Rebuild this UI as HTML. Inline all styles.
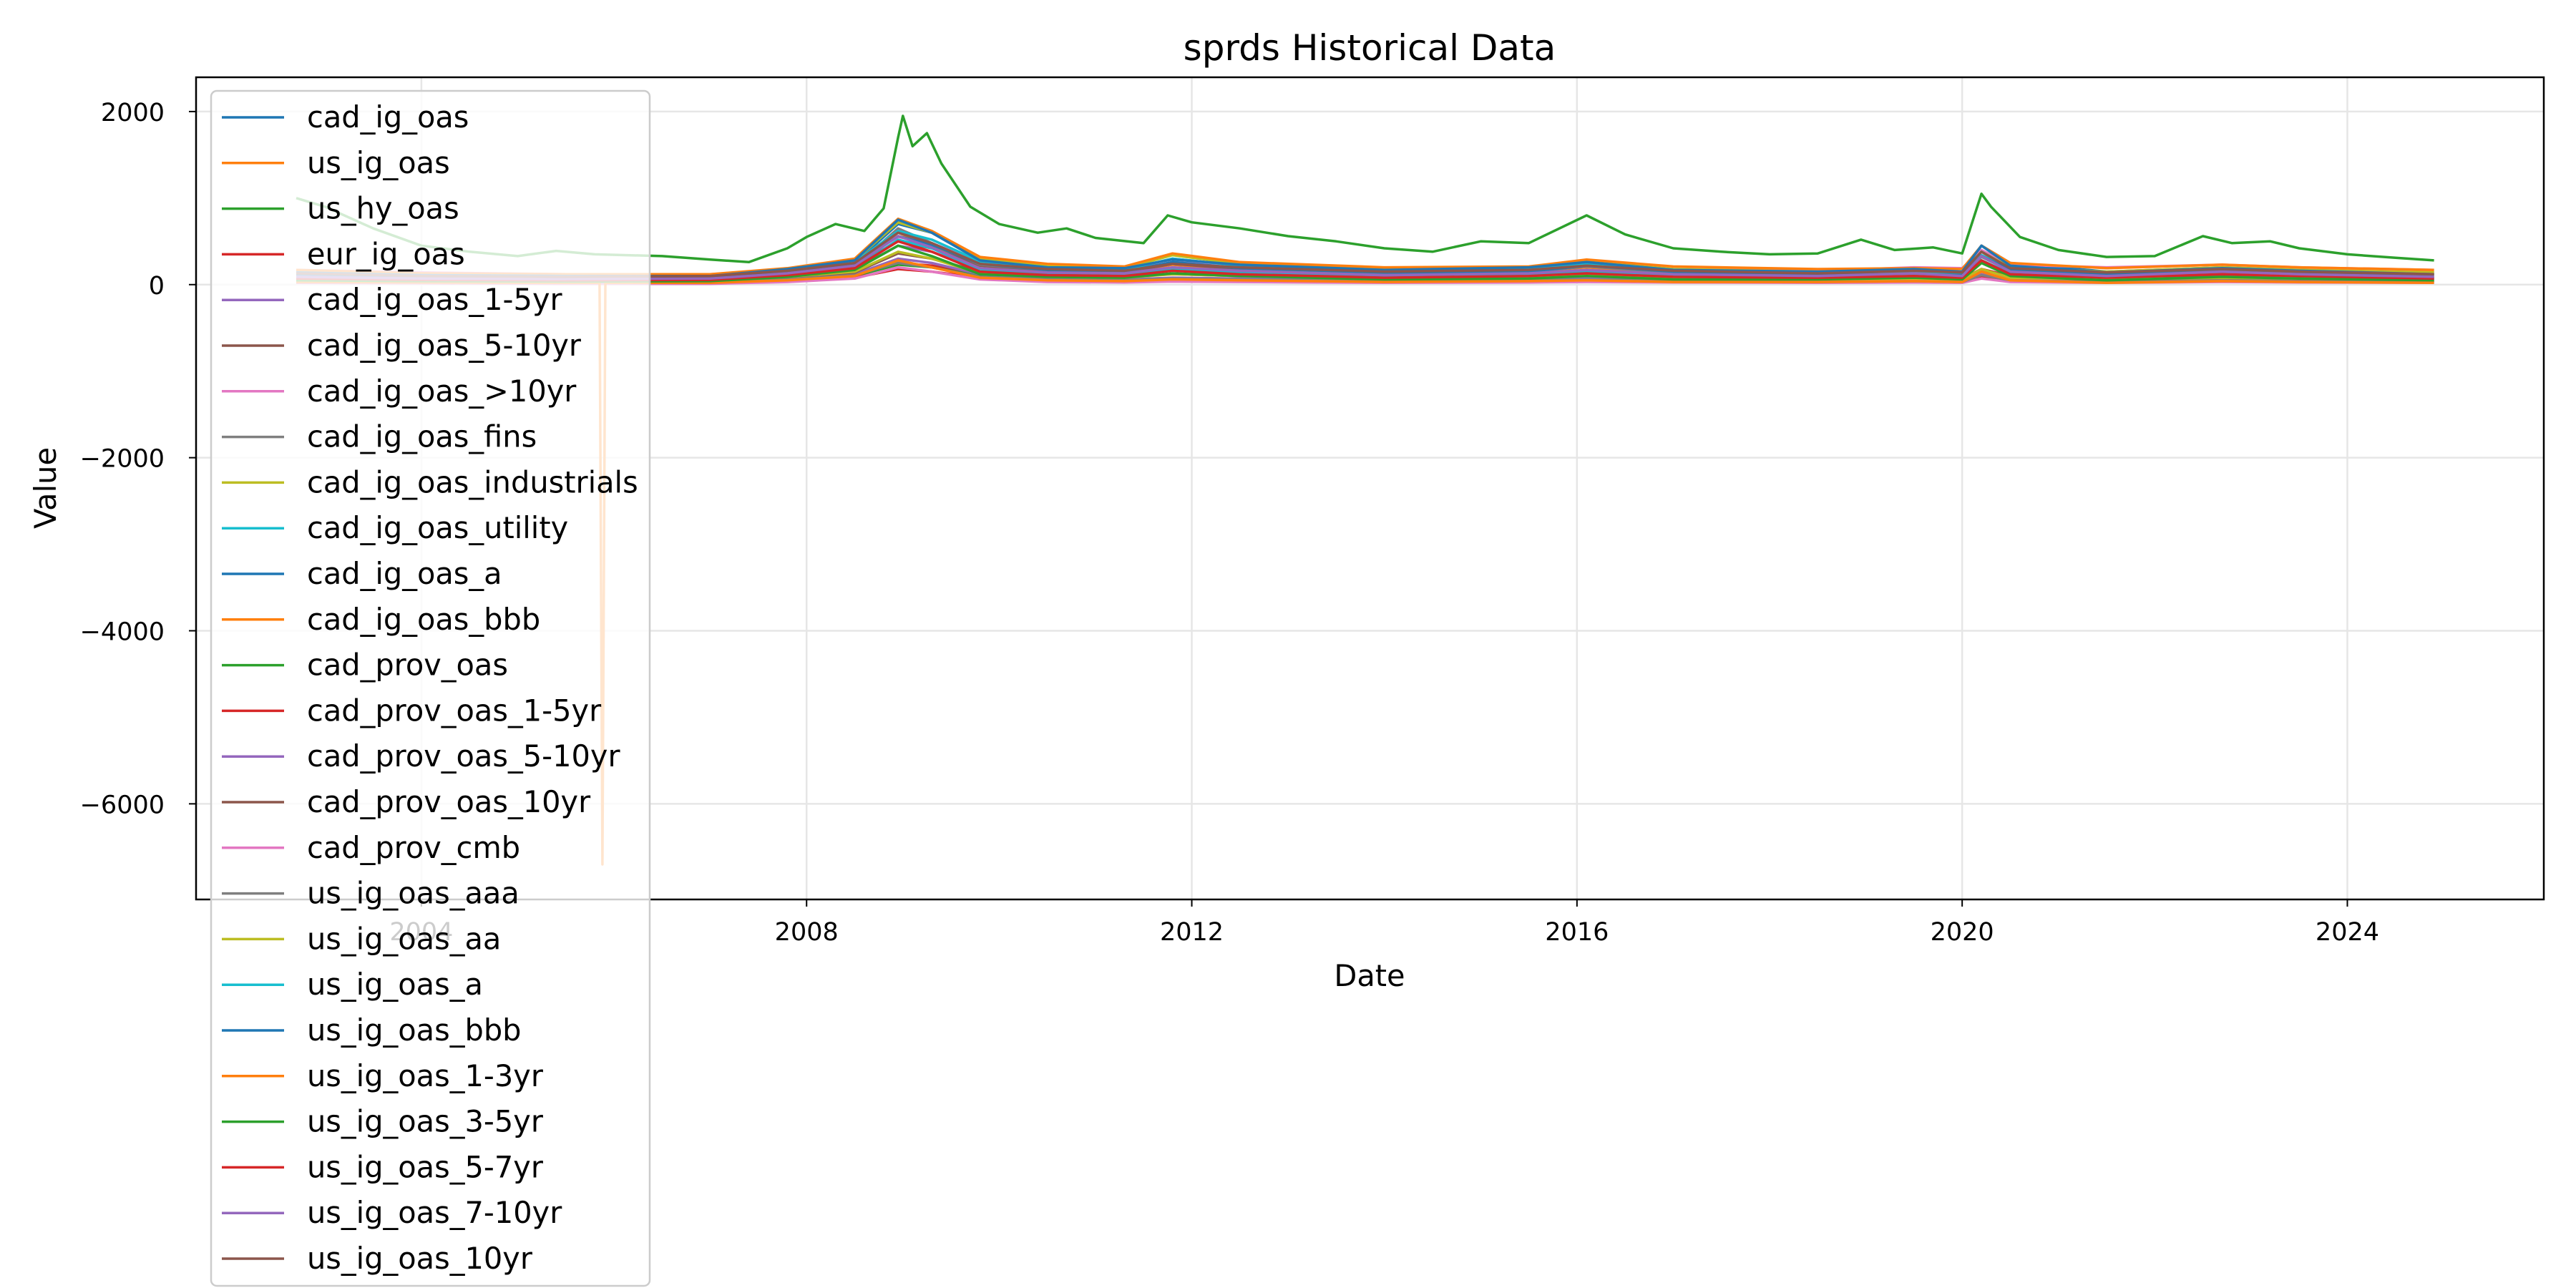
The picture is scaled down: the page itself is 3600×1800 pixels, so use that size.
<!DOCTYPE html>
<html><head><meta charset="utf-8"><style>
html,body{margin:0;padding:0;background:#fff;width:3600px;height:1800px;overflow:hidden}
svg{display:block}
svg text{font-family:"DejaVu Sans","Liberation Sans",sans-serif;fill:#000}
</style></head><body>
<svg id="chart" width="3600" height="1800" xmlns="http://www.w3.org/2000/svg">
<defs><clipPath id="plotclip"><rect x="274" y="108" width="3281" height="1149"/></clipPath></defs>
<rect x="0" y="0" width="3600" height="1800" fill="#fff"/>
<g id="grid"></g>
<g id="series" clip-path="url(#plotclip)"></g>
<rect x="274" y="108" width="3281" height="1149" fill="none" stroke="#000" stroke-width="2.5"/>
<g id="axes"></g>
<text x="1914" y="84" font-size="50" text-anchor="middle">sprds Historical Data</text>
<text x="1914" y="1378" font-size="41.5" text-anchor="middle">Date</text>
<text x="78" y="682" font-size="41.5" text-anchor="middle" transform="rotate(-90 78 682)">Value</text>
<g id="legend"></g>
</svg>
<script>
const xTicks=[2004,2008,2012,2016,2020,2024];
const yTicks=[2000,0,-2000,-4000,-6000];
const seriesNames=["cad_ig_oas","us_ig_oas","us_hy_oas","eur_ig_oas","cad_ig_oas_1-5yr","cad_ig_oas_5-10yr","cad_ig_oas_>10yr","cad_ig_oas_fins","cad_ig_oas_industrials","cad_ig_oas_utility","cad_ig_oas_a","cad_ig_oas_bbb","cad_prov_oas","cad_prov_oas_1-5yr","cad_prov_oas_5-10yr","cad_prov_oas_10yr","cad_prov_cmb","us_ig_oas_aaa","us_ig_oas_aa","us_ig_oas_a","us_ig_oas_bbb","us_ig_oas_1-3yr","us_ig_oas_3-5yr","us_ig_oas_5-7yr","us_ig_oas_7-10yr","us_ig_oas_10yr"];
const dates=[2002.7,2004,2005.5,2007,2007.8,2008.5,2008.95,2009.3,2009.8,2010.5,2011.3,2011.8,2012.5,2014,2015.5,2016.1,2017,2018.5,2019.5,2020.0,2020.2,2020.5,2021.5,2022.7,2023.5,2024.9];
const hyDates=[2002.7,2003.0,2003.5,2004.0,2004.5,2005.0,2005.4,2005.8,2006.5,2007.0,2007.4,2007.8,2008.0,2008.3,2008.6,2008.8,2008.95,2009.0,2009.1,2009.25,2009.4,2009.7,2010.0,2010.4,2010.7,2011.0,2011.5,2011.75,2012.0,2012.5,2013.0,2013.5,2014.0,2014.5,2015.0,2015.5,2016.1,2016.5,2017.0,2017.5,2018.0,2018.5,2018.95,2019.3,2019.7,2020.0,2020.2,2020.3,2020.6,2021.0,2021.5,2022.0,2022.5,2022.8,2023.2,2023.5,2024.0,2024.5,2024.9];
const hyValues=[1000,900,650,450,380,330,390,350,330,290,260,420,550,700,620,880,1700,1950,1600,1750,1400,900,700,600,650,540,480,800,720,650,560,500,420,380,500,480,800,580,420,380,350,360,520,400,430,360,1050,900,550,400,320,330,560,480,500,420,350,310,280];
const spikeDates=[2002.7,2004,2005.5,2005.85,2005.88,2005.91,2007,2007.8,2008.5,2008.95,2009.3,2009.8,2010.5,2011.3,2011.8,2012.5,2014,2015.5,2016.1,2017,2018.5,2019.5,2020.0,2020.2,2020.5,2021.5,2022.7,2023.5,2024.9];
const spikeValues=[30,25,20,20,-6700,20,20,50,100,280,200,80,50,40,60,50,30,40,50,30,30,40,30,150,50,20,40,30,20];
const s0=[150,110,90,85,150,250,700,600,280,200,170,300,220,160,180,270,180,140,150,140,450,250,150,200,170,140];
const s1=[100,80,70,70,140,220,600,450,220,150,140,230,170,120,150,200,120,110,140,110,380,170,110,150,120,90];
const s3=[60,50,30,30,70,130,250,220,120,100,120,180,140,90,80,110,80,70,80,70,180,100,70,120,100,80];
const s4=[80,60,50,50,110,180,450,380,180,120,100,180,140,90,100,150,100,80,90,80,280,130,80,120,100,80];
const s5=[130,100,90,90,150,230,500,420,220,160,140,240,180,130,150,210,150,120,130,120,330,180,120,170,150,120];
const s6=[170,140,120,120,180,260,550,480,260,190,160,260,210,160,180,250,180,160,200,190,400,230,200,230,200,170];
const s7=[110,80,70,70,120,210,650,480,230,170,150,260,190,130,150,210,140,110,120,110,320,160,100,150,130,110];
const s8=[140,110,100,100,170,280,720,600,300,220,190,340,240,180,190,260,180,150,150,150,380,200,150,200,170,140];
const s9=[130,100,90,90,160,260,620,520,270,200,170,300,220,160,170,240,170,140,140,130,340,180,130,170,150,120];
const s10=[120,90,80,80,140,230,560,460,240,170,150,260,190,140,150,220,150,120,120,110,330,170,120,160,140,110];
const s11=[170,130,120,120,190,300,760,620,320,240,210,360,260,200,210,290,210,180,190,180,450,250,190,230,200,170];
const s12=[50,40,35,35,60,100,230,200,100,60,45,60,60,45,50,70,55,45,50,45,110,60,40,60,50,45];
const s13=[30,25,20,20,40,80,180,150,80,50,40,50,45,35,35,50,40,35,35,30,90,45,30,50,40,35];
const s14=[50,40,35,35,70,120,300,250,120,80,60,80,70,55,60,80,60,55,55,50,120,70,55,80,70,60];
const s15=[80,70,60,60,90,140,360,300,150,110,90,120,100,80,90,110,90,80,85,80,170,100,80,110,100,80];
const s16=[20,15,10,10,30,70,200,150,60,30,25,35,30,20,25,30,25,20,25,20,70,30,20,30,25,20];
const s17=[40,30,30,30,60,110,250,200,90,60,50,70,60,40,50,60,40,30,40,30,110,50,30,50,40,30];
const s18=[60,50,45,45,90,150,380,300,130,90,80,120,100,70,80,110,70,60,70,60,180,80,60,80,70,60];
const s19=[80,60,60,60,120,190,520,420,180,120,110,170,140,100,120,160,100,90,110,90,280,130,90,120,100,80];
const s20=[140,110,100,100,180,280,750,600,280,200,190,290,230,170,200,260,170,150,180,150,450,220,140,190,160,120];
const s22=[50,40,35,40,90,170,450,330,120,90,80,130,100,60,70,100,60,60,80,60,250,100,50,90,70,50];
const s23=[70,55,50,55,110,190,500,380,150,110,100,160,120,80,100,130,90,80,100,80,280,120,80,120,100,70];
const s24=[90,70,65,70,130,220,560,430,190,140,130,200,160,110,130,170,120,100,130,100,330,150,100,150,120,90];
const s25=[130,100,90,100,160,250,600,480,240,180,160,240,200,150,170,220,160,130,160,140,380,190,140,180,150,120];

const NS="http://www.w3.org/2000/svg";
const colors=["#1f77b4","#ff7f0e","#2ca02c","#d62728","#9467bd","#8c564b","#e377c2","#7f7f7f","#bcbd22","#17becf"];
const X0=274,X1=3555,Y0=108,Y1=1257;
const xMin=2001.66,xMax=2026.04,yMin=-7105,yMax=2396;
function xs(t){return X0+(t-xMin)/(xMax-xMin)*(X1-X0);}
function ys(v){return Y1-(v-yMin)/(yMax-yMin)*(Y1-Y0);}
function mk(tag,attrs,parent){const e=document.createElementNS(NS,tag);for(const k in attrs)e.setAttribute(k,attrs[k]);parent.appendChild(e);return e;}

const grid=document.getElementById('grid'),axes=document.getElementById('axes');
xTicks.forEach(t=>{
  const g=mk('line',{x1:xs(t),x2:xs(t),y1:Y0,y2:Y1,stroke:'#e6e6e6','stroke-width':2.5},grid);
  
  
  const tk=mk('line',{x1:xs(t),x2:xs(t),y1:Y1,y2:Y1+10,stroke:'#000','stroke-width':2},axes);
  
  
  const lb=mk('text',{x:xs(t),y:Y1+57,'font-size':35,'text-anchor':'middle'},axes);
  lb.textContent=String(t);
  
  
});
yTicks.forEach(v=>{
  const g=mk('line',{x1:X0,x2:X1,y1:ys(v),y2:ys(v),stroke:'#e6e6e6','stroke-width':2.5},grid);
  
  
  const tk=mk('line',{x1:X0-10,x2:X0,y1:ys(v),y2:ys(v),stroke:'#000','stroke-width':2},axes);
  
  
  const lb=mk('text',{x:X0-44,y:ys(v)+13,'font-size':35,'text-anchor':'end'},axes);
  lb.textContent=(v<0?'\u2212'+Math.abs(v):String(v));
  
  
});

const seriesData=[[dates,s0],[dates,s1],[hyDates,hyValues],[dates,s3],[dates,s4],[dates,s5],[dates,s6],[dates,s7],[dates,s8],[dates,s9],[dates,s10],[dates,s11],[dates,s12],[dates,s13],[dates,s14],[dates,s15],[dates,s16],[dates,s17],[dates,s18],[dates,s19],[dates,s20],[spikeDates,spikeValues],[dates,s22],[dates,s23],[dates,s24],[dates,s25]];
const sg=document.getElementById('series');
seriesData.forEach((sd,i)=>{
  const d=sd[0].map((t,j)=>(j?'L':'M')+xs(t).toFixed(1)+' '+ys(sd[1][j]).toFixed(1)).join(' ');
  const p=mk('path',{d:d,fill:'none',stroke:colors[i%10],'stroke-width':3.5,'stroke-linejoin':'round'},sg);
  
  
});

const lg=document.getElementById('legend');
const box=mk('rect',{x:295,y:127,width:613,height:1670,rx:8,fill:'#fff','fill-opacity':0.8,stroke:'#cccccc','stroke-width':2.5},lg);


seriesNames.forEach((n,i)=>{
  const cy=164+i*63.8;
  const l=mk('line',{x1:310,x2:397,y1:cy,y2:cy,stroke:colors[i%10],'stroke-width':3.5},lg);
  
  
  const t=mk('text',{x:429,y:cy+14,'font-size':41.5},lg);
  t.textContent=n;
  
  
});
</script>
</body></html>
